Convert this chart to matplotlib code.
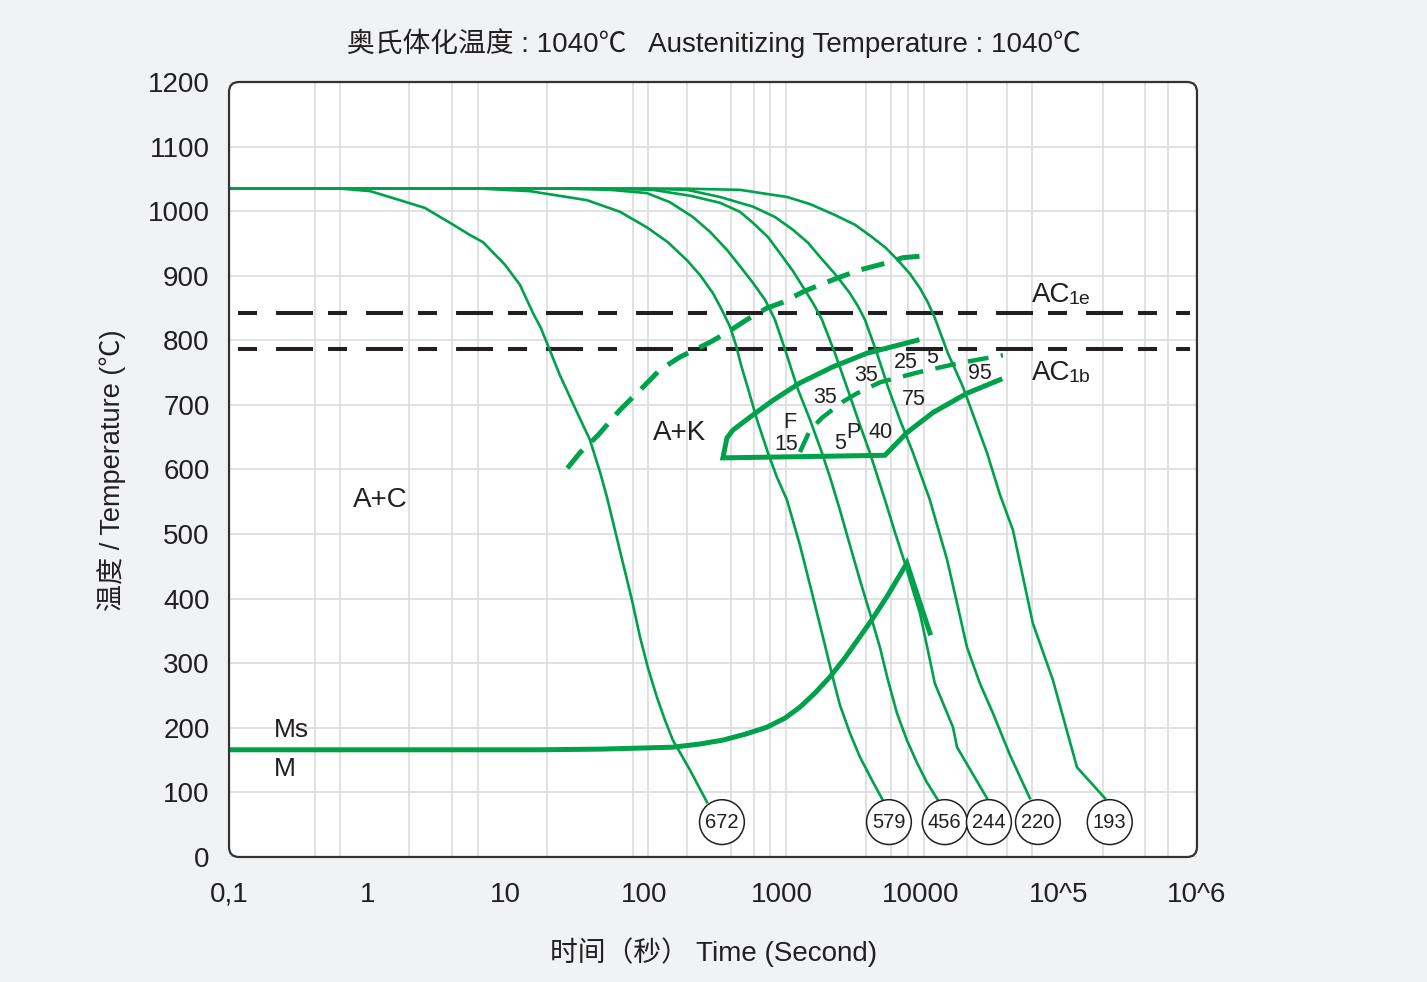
import numpy as np
import matplotlib
matplotlib.use('Agg')
import matplotlib.pyplot as plt
from matplotlib.patches import FancyBboxPatch
from matplotlib.transforms import IdentityTransform

plt.rcParams['font.family'] = ['Liberation Sans', 'Noto Sans CJK SC', 'DejaVu Sans']
plt.rcParams['lines.scale_dashes'] = False

GREEN = '#00a14b'
INK = '#231f20'

# cooling curves: time (s) / temperature (C)
t_672 = [0.1, 0.63, 1.05, 1.72, 2.61, 3.96, 5.53, 6.87, 9.9, 12.7, 15.8, 18.0, 20.6, 24.7, 31.8,
         40.7, 48.2, 54.1, 61.8, 70.6, 82, 93.7, 107, 124, 142, 162, 189, 215, 286]
T_672 = [1035, 1035, 1031, 1017, 1005, 982, 963, 952, 917, 886, 842, 819, 788, 746, 695,
         646, 596, 557, 506, 455, 398, 341, 293, 248, 212, 181, 156, 135, 85]

t_579 = [0.1, 6.5, 15.0, 38.8, 67.2, 105, 149, 205, 255, 316, 367, 420, 463, 504, 576, 658,
         789, 917, 1083, 1345, 1670, 2040, 2330, 2620, 3090, 3650, 4460, 5350]
T_579 = [1035, 1035, 1031, 1017, 999, 975, 952, 924, 901, 873, 847, 821, 793, 762, 720, 677,
         626, 588, 553, 483, 403, 328, 277, 235, 192, 155, 119, 88]

t_456 = [0.1, 24.7, 56.9, 105, 154, 226, 301, 399, 495, 615, 751, 887, 1083, 1280, 1590, 1940,
         2250, 2620, 3090, 3650, 4310, 5090, 5820, 6760, 7980, 9440, 11100, 13400]
T_456 = [1035, 1035, 1033, 1028, 1014, 991, 968, 940, 915, 889, 863, 832, 777, 728, 677, 626,
         584, 537, 483, 429, 378, 325, 274, 223, 181, 146, 116, 88]

t_244 = [0.1, 48, 116, 215, 355, 495, 615, 789, 964, 1200, 1460, 1700, 1940, 2410, 2990, 3650,
         4310, 5540, 6540, 7720, 8830, 9910, 11300, 12700, 17200, 18400, 30300]
T_244 = [1035, 1035, 1033, 1024, 1013, 999, 982, 960, 935, 907, 878, 855, 832, 780, 723, 669,
         626, 553, 503, 455, 413, 378, 321, 269, 201, 170, 91]

t_220 = [0.1, 94, 205, 355, 615, 887, 1200, 1540, 1880, 2450, 3090, 3530, 3970, 4850, 5820,
         7110, 8830, 11700, 15600, 18400, 21700, 26900, 33400, 44400, 61900]
T_220 = [1035, 1035, 1033, 1022, 1007, 991, 971, 951, 929, 901, 873, 853, 832, 780, 728,
         677, 626, 553, 460, 393, 325, 269, 223, 158, 91]

t_193 = [0.1, 182, 495, 1083, 1590, 2410, 3360, 4460, 5630, 6870, 8400, 9910, 11300, 12700,
         15800, 20300, 24800, 30300, 37600, 46700, 65000, 90800, 135500, 216000]
T_193 = [1035, 1035, 1033, 1022, 1011, 994, 979, 960, 943, 924, 903, 881, 859, 835,
         780, 728, 677, 626, 561, 506, 362, 274, 139, 91]

curve_labels = ['672', '579', '456', '244', '220', '193']
label_t = [367, 5920, 15000, 31300, 70700, 234000]
label_T = 54

# ferrite start (dashed, upper)
t_fs = [28, 34.5, 46.6, 67, 94, 130, 182, 301, 406, 556, 777, 1014, 1413, 1880, 2620, 3650,
        5720, 7470, 11100]
T_fs = [602, 626, 653, 692, 723, 754, 774, 797, 813, 832, 850, 859, 875, 886, 898, 909,
        920, 928, 931]

# ferrite / pearlite region boundary
t_fp = [9440, 4100, 2330, 1345, 857, 585, 441, 399, 373, 5540, 7980, 12300, 21700, 37600]
T_fp = [800, 780, 759, 734, 707, 681, 661, 649, 618, 622, 657, 688, 718, 739]

# pearlite start (dashed)
t_ps = [1345, 1590, 1940, 2750, 3480, 5100, 9900, 19300, 39500]
T_ps = [627, 661, 680, 705, 718, 735, 751, 765, 777]

# Ms / bainite
t_ms = [0.1, 17.7, 48.2, 162, 255, 373, 538, 777, 1047, 1345, 1730, 2220, 2840, 3650, 4540,
        5720, 6760, 7980, 11700]
T_ms = [166, 166, 167, 170, 175, 181, 190, 201, 215, 232, 254, 279, 308, 341, 370,
        403, 429, 455, 347]

AC1e = 842
AC1b = 787

x_ticks = [0.1, 1, 10, 100, 1000, 1e4, 1e5, 1e6]
x_ticklabels = ['0,1', '1', '10', '100', '1000', '10000', '10^5', '10^6']
y_ticks = list(range(0, 1201, 100))
grid_t = [0.42, 0.63, 2, 4.1, 6.3, 20, 83, 107, 205, 430, 625, 815, 1065,
          4040, 6120, 8120, 10600, 21700, 42200, 64000, 209000, 420000, 617000]

# region text
fp_text = ['F', '15', '35', '35', '25', '5', '75', '95', '5', 'P', '40']
fp_t = [1138, 1065, 2040, 4040, 7850, 12100, 8980, 26900, 2620, 3250, 5180]
fp_T = [672, 638, 712, 745, 766, 773, 709, 748, 641, 658, 657]

fig = plt.figure(figsize=(14.27, 9.82), dpi=100)
fig.patch.set_facecolor('#f1f2f4')

ax = fig.add_axes([0.1605, 0.1273, 0.6783, 0.7892])
ax.patch.set_visible(False)

ax.set_xscale('log')
ax.set_xlim(0.1, 1e6)
ax.set_ylim(0, 1200)
ax.set_xticks(x_ticks)
ax.set_xticklabels(x_ticklabels)
ax.set_xticks(grid_t, minor=True)
ax.set_xticklabels([], minor=True)
ax.set_yticks(y_ticks)
ax.tick_params(which='both', length=0, labelsize=20, colors=INK)
ax.tick_params(axis='y', pad=14)
ax.tick_params(axis='x', pad=18)
ax.xaxis.grid(True, which='minor', color='#dcdcdc', lw=1.2)
ax.xaxis.grid(False, which='major')
ax.yaxis.grid(True, color='#dcdcdc', lw=1.2)
ax.set_axisbelow(True)
for s in ax.spines.values():
    s.set_visible(False)

# rounded plot frame
pos = ax.get_position()
W, H = fig.get_size_inches() * fig.dpi
x0, y0, w, h = pos.x0 * W, pos.y0 * H, pos.width * W, pos.height * H
fig.patches.append(FancyBboxPatch((x0, y0), w, h, boxstyle='round,pad=0,rounding_size=10',
                                  transform=IdentityTransform(), fc='white', ec='none', zorder=-1))
fig.patches.append(FancyBboxPatch((x0, y0), w, h, boxstyle='round,pad=0,rounding_size=10',
                                  transform=IdentityTransform(), fc='none', ec='#333333', lw=1.6, zorder=5))

# AC lines
for T in (AC1e, AC1b):
    ax.axhline(T, xmin=0.009, xmax=0.993, color=INK, lw=2.9,
               dashes=(13.7, 13.7, 26.6, 10.8), dash_capstyle='butt')

# cooling curves
for tt, TT in [(t_672, T_672), (t_579, T_579), (t_456, T_456),
               (t_244, T_244), (t_220, T_220), (t_193, T_193)]:
    ax.plot(tt, TT, color=GREEN, lw=1.9, solid_joinstyle='round')

ax.plot(t_fs, T_fs, color=GREEN, lw=3.6, dashes=(17, 9), dash_capstyle='butt')
ax.plot(t_fp, T_fp, color=GREEN, lw=3.6, solid_joinstyle='miter')
ax.plot(t_ps, T_ps, color=GREEN, lw=3.2, dashes=(15, 9), dash_capstyle='butt')
ax.plot(t_ms, T_ms, color=GREEN, lw=3.6, solid_joinstyle='miter')

for lab, tt in zip(curve_labels, label_t):
    ax.text(tt, label_T, lab, ha='center', va='center', fontsize=14.5, color=INK, zorder=6,
            bbox=dict(boxstyle='circle,pad=0.28', fc='white', ec=INK, lw=1.1))

for s, tt, TT in zip(fp_text, fp_t, fp_T):
    ax.text(tt, TT, s, ha='center', va='center', fontsize=15.5, color=INK)

ax.text(1.24, 553, 'A+C', ha='center', va='center', fontsize=20, color=INK)
ax.text(182, 657, 'A+K', ha='center', va='center', fontsize=20, color=INK)
ax.text(0.21, 197, 'Ms', ha='left', va='center', fontsize=19, color=INK)
ax.text(0.21, 136, 'M', ha='left', va='center', fontsize=19, color=INK)

for T, sub in [(859, '1e'), (739, '1b')]:
    t = ax.text(64000, T, 'AC', ha='left', va='baseline', fontsize=20, color=INK)
    ax.annotate(sub, xy=(1, 0), xycoords=t, xytext=(-1.5, 0), textcoords='offset points',
                ha='left', va='bottom', fontsize=14, color=INK)

fig.text(0.5, 1 - 43 / 982, '奥氏体化温度 : 1040℃   Austenitizing Temperature : 1040℃',
         ha='center', va='center', fontsize=20, color=INK)
fig.text(0.5, 1 - 952 / 982, '时间（秒） Time (Second)',
         ha='center', va='center', fontsize=20, color=INK)
fig.text(112 / 1427, 1 - 470 / 982, '温度 / Temperature (℃)', rotation=90,
         ha='center', va='center', fontsize=19.5, color=INK)

fig.savefig('out.png', dpi=100, facecolor=fig.get_facecolor())
